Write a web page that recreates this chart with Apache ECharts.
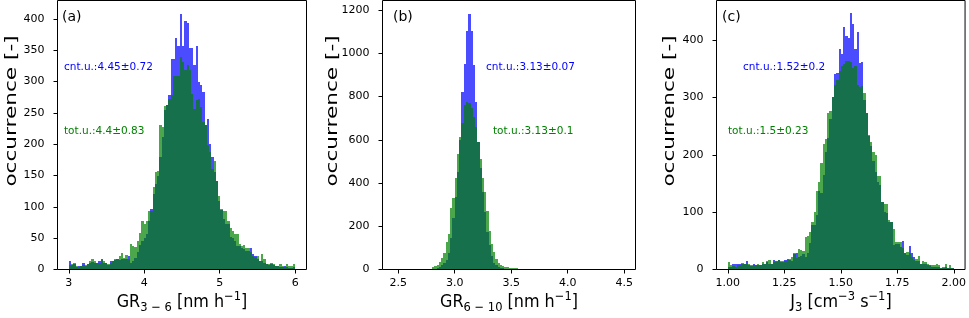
<!DOCTYPE html>
<html><head><meta charset="utf-8">
<script src="https://cdn.jsdelivr.net/npm/echarts@6/dist/echarts.min.js"></script>
<style>html,body{margin:0;padding:0;background:#fff}#c{width:969px;height:318px}</style>
</head><body><div id="c"></div>
<script>
// ---------- Panel (a): GR3-6, 100 bins from 3.0, width 0.03 ----------
const aBinStart = 3.0, aBinWidth = 0.03;
const aCnt = [13,7,9,4,5,6,11,5,9,11, 12,10,10,13,16,11,11,7,13,13, 15,16,15,17,17,17,21,11,14,18,
  28,39,46,50,57,77,96,121,136,150, 180,212,254,263,279,336,336,370,357,408, 357,397,393,354,354,326,357,300,294,284,
  230,240,201,180,155,142,109,95,81,73, 73,52,50,46,37,37,35,33,30,30, 35,24,21,17,13,14,10,8,7,9, 7,6,5,4,4,5,4,3,3,4];
const aTot = [7,8,10,6,4,5,7,7,9,13, 16,13,10,11,15,14,10,9,11,13, 16,17,21,26,19,23,17,40,38,36,
  45,58,77,73,77,94,94,131,155,157, 230,228,261,263,272,278,309,309,309,339, 331,318,326,318,281,257,270,272,260,236,
  230,199,188,160,173,142,117,97,94,94, 78,66,62,57,57,41,37,39,34,34, 28,22,20,21,13,25,16,9,8,11, 8,5,5,9,5,4,8,5,5,8];
const aXTicks = [3,4,5,6];
const aYTicks = [0,50,100,150,200,250,300,350,400];

// ---------- Panel (b): GR6-10, bins from 2.80, width 0.02 ----------
const bBinStart = 2.80, bBinWidth = 0.02;
const bCnt = [2,4,6,10,20,28,43,74,147,237,337,453,600,820,951,1103,1183,1103,944,773,588,470,360,268,175,113,63,32,20,12,8,5,3,2,2,1,1,1];
const bTot = [10,14,22,36,54,74,125,166,283,330,425,535,611,678,760,775,770,745,705,660,590,510,425,360,270,180,118,80,50,30,19,14,12,10,8,6,6,5];
const bXTicks = [2.5,3.0,3.5,4.0,4.5];
const bYTicks = [0,200,400,600,800,1000,1200];

// ---------- Panel (c): J3, 100 bins from 1.00, width 0.01 ----------
const cBinStart = 1.0, cBinWidth = 0.01;
const cCnt = [5,5,10,10,9,10,9,10,15,8, 6,9,8,8,7,9,9,13,9,10, 16,15,16,13,13,17,19,16,15,27, 28,22,24,27,
  21,28,47,78,78,95,136,133,165,205,230,262,300,340,343,385,376,422,407,404,447,428,384,414,360,362,296,273,232,
  215,190,170,152,148,117,100,98,83,82,43,44,44,40,50,29,25,41,28,21,15,14,9,10,10,7,8,5,5,5,4,3,3,4,3,3,2];
const cTot = [13,7,6,5,7,7,11,10,9,9, 8,7,7,9,8,13,10,15,16,9, 13,13,17,15,14,14,16,18,21,28, 20,36,34,32,
  57,59,66,83,100,136,152,185,218,228,273,276,300,322,331,346,355,358,363,363,362,352,355,322,318,320,308,273,235,
  223,204,200,163,163,117,114,114,87,83,70,48,48,48,37,29,30,28,21,17,19,23,9,15,13,9,6,7,7,9,7,3,5,9,2,7,2];
const cXTicks = [1.00,1.25,1.50,1.75,2.00];
const cYTicks = [0,100,200,300,400];

// ---------- texts ----------
const panelLetters = ['(a)','(b)','(c)'];
const cntLabels = ['cnt.u.:4.45\u00b10.72','cnt.u.:3.13\u00b10.07','cnt.u.:1.52\u00b10.2'];
const totLabels = ['tot.u.:4.4\u00b10.83','tot.u.:3.13\u00b10.1','tot.u.:1.5\u00b10.23'];
const yName = 'occurrence [-]';
const xNames = [
  '{n|GR}{s|3 \u2212 6}{n| [nm h}{p|\u22121}{n|]}',
  '{n|GR}{s|6 \u2212 10}{n| [nm h}{p|\u22121}{n|]}',
  '{n|J}{s|3}{n| [cm}{p|\u22123}{n| s}{p|\u22121}{n|]}'
];

const FONT = 'DejaVu Sans';
const BLUE = 'rgba(0,0,255,0.7)';
const GREEN = 'rgba(0,128,0,0.7)';

const grids = [
  {left: 57.5, top: 0.5, width: 249, height: 269},
  {left: 382.5, top: 0.5, width: 253, height: 269},
  {left: 716.5, top: 0.5, width: 249, height: 269}
];
const xRanges = [[2.85, 6.15], [2.361, 4.600], [0.95, 2.05]];
const yMax = [429.5, 1244, 469];
const xTicks = [aXTicks, bXTicks, cXTicks];
const yTicks = [aYTicks, bYTicks, cYTicks];
const xFmt = [v => String(Math.round(v)), v => v.toFixed(1), v => v.toFixed(2)];

function hist(idx, start, width, counts, color, z) {
  return {
    type: 'custom', xAxisIndex: idx, yAxisIndex: idx, z: z, silent: true,
    data: counts.map((v, i) => [start + i * width, start + (i + 1) * width, v]),
    encode: {x: [0, 1], y: 2},
    renderItem: function (params, api) {
      const v = api.value(2);
      if (!v) return null;
      const p0 = api.coord([api.value(0), v]);
      const p1 = api.coord([api.value(1), 0]);
      const x0 = Math.round(p0[0]), x1 = Math.round(p1[0]);
      const y0 = Math.round(p0[1]), y1 = Math.round(p1[1]);
      return {type: 'rect', shape: {x: x0, y: y0, width: x1 - x0, height: y1 - y0}, style: {fill: color}};
    }
  };
}

const chart = echarts.init(document.getElementById('c'), null, {renderer: 'canvas'});

const xAxis = [], yAxis = [];
for (let i = 0; i < 3; i++) {
  xAxis.push({
    gridIndex: i, type: 'value', min: xRanges[i][0], max: xRanges[i][1],
    axisLine: {show: false},
    axisTick: {show: true, length: 4, lineStyle: {color: '#000', width: 1}, customValues: xTicks[i]},
    axisLabel: {customValues: xTicks[i], formatter: xFmt[i], color: '#000', fontSize: 11, fontFamily: FONT, margin: 8},
    splitLine: {show: false}
  });
  yAxis.push({
    gridIndex: i, type: 'value', min: 0, max: yMax[i],
    axisLine: {show: false},
    axisTick: {show: true, length: 4, lineStyle: {color: '#000', width: 1}, customValues: yTicks[i]},
    axisLabel: {customValues: yTicks[i], formatter: v => String(Math.round(v)), color: '#000', fontSize: 11, fontFamily: FONT, margin: 13},
    splitLine: {show: false}
  });
}

const series = [
  hist(0, aBinStart, aBinWidth, aCnt, BLUE, 2), hist(0, aBinStart, aBinWidth, aTot, GREEN, 3),
  hist(1, bBinStart, bBinWidth, bCnt, BLUE, 2), hist(1, bBinStart, bBinWidth, bTot, GREEN, 3),
  hist(2, cBinStart, cBinWidth, cCnt, BLUE, 2), hist(2, cBinStart, cBinWidth, cTot, GREEN, 3)
];

const letterPos = [[62, 17], [393, 17], [722, 17]];
const cntPos = [[64, 67], [486, 67], [743, 67]];
const totPos = [[64, 131], [493, 131], [728, 131]];
const yNamePos = [[12, 111], [333, 111], [670, 111]];
const xNameY = 302;

const graphic = [];
for (let i = 0; i < 3; i++) {
  graphic.push({type: 'text', x: letterPos[i][0], y: letterPos[i][1], z: 10,
    style: {text: panelLetters[i], fontSize: 14, fontFamily: FONT, fill: '#000', textAlign: 'left', textVerticalAlign: 'middle'}});
  graphic.push({type: 'text', x: cntPos[i][0], y: cntPos[i][1], z: 10,
    style: {text: cntLabels[i], fontSize: 10.5, fontFamily: FONT, fill: '#0000ff', textAlign: 'left', textVerticalAlign: 'middle'}});
  graphic.push({type: 'text', x: totPos[i][0], y: totPos[i][1], z: 10,
    style: {text: totLabels[i], fontSize: 10.5, fontFamily: FONT, fill: '#008000', textAlign: 'left', textVerticalAlign: 'middle'}});
  graphic.push({type: 'text', x: yNamePos[i][0], y: yNamePos[i][1], rotation: Math.PI / 2, scaleX: 1.35, z: 10,
    style: {text: yName, fontSize: 16, fontFamily: FONT, fill: '#000', textAlign: 'center', textVerticalAlign: 'middle'}});
  const g = grids[i];
  graphic.push({type: 'text', x: g.left + g.width / 2, y: xNameY, scaleY: 1.1, z: 10,
    style: {text: xNames[i], textAlign: 'center', textVerticalAlign: 'middle', fill: '#000',
      rich: {
        n: {fontSize: 16, fontFamily: FONT, lineHeight: 22, fill: '#000', color: '#000'},
        s: {fontSize: 11.5, fontFamily: FONT, lineHeight: 13, verticalAlign: 'bottom', fill: '#000', color: '#000'},
        p: {fontSize: 11.5, fontFamily: FONT, lineHeight: 13, verticalAlign: 'top', fill: '#000', color: '#000'}
      }}});
}

chart.setOption({
  animation: false,
  backgroundColor: '#fff',
  grid: grids.map(g => Object.assign({show: true, borderColor: '#000', borderWidth: 1, backgroundColor: 'transparent', z: 5}, g)),
  xAxis: xAxis, yAxis: yAxis, series: series, graphic: graphic
});
</script></body></html>
